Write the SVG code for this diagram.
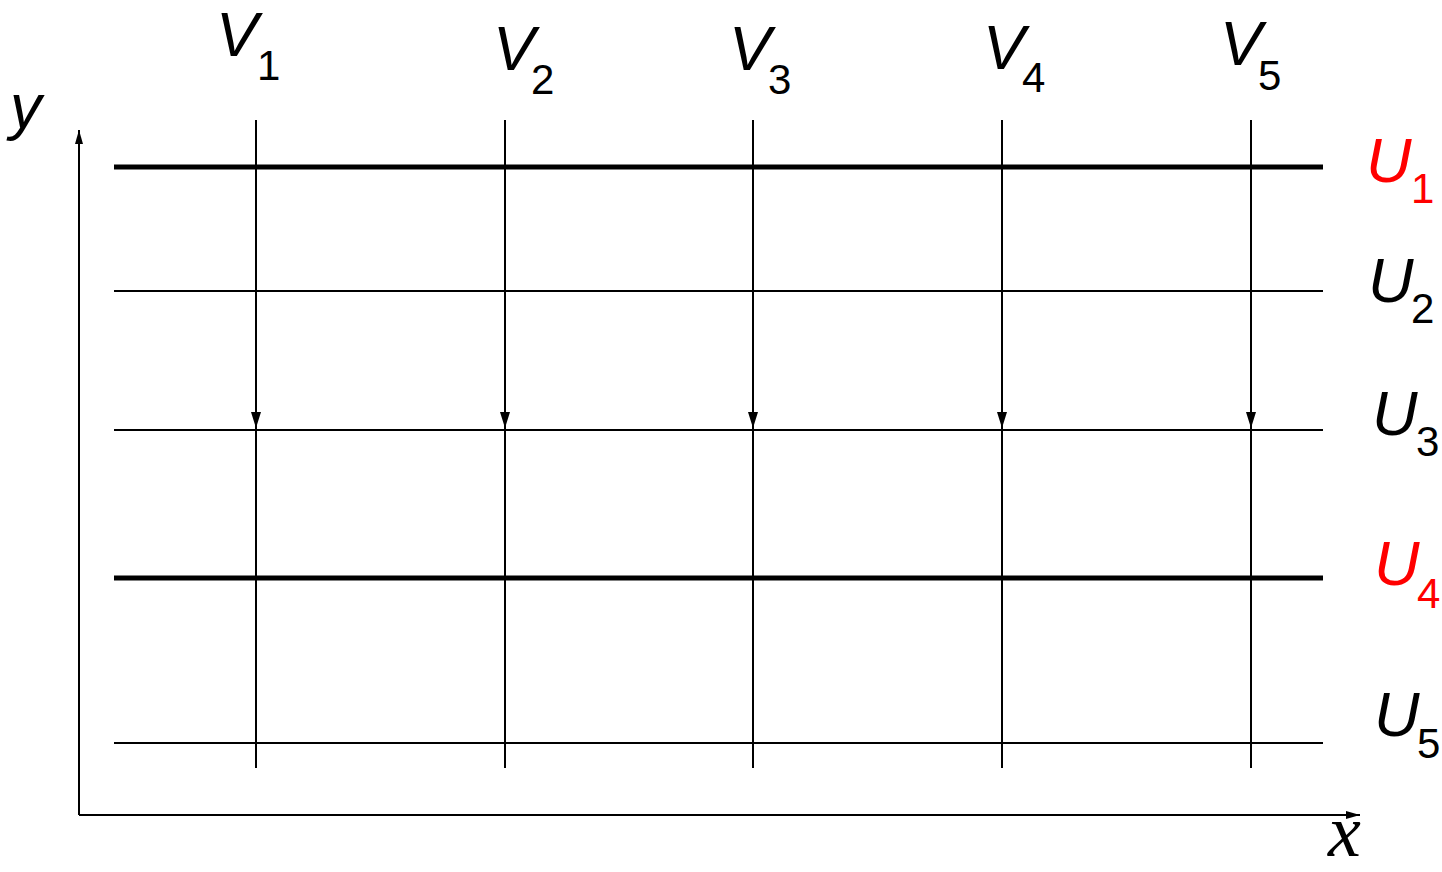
<svg xmlns="http://www.w3.org/2000/svg" width="1442" height="872" viewBox="0 0 1442 872">
<defs>
<marker id="ah" markerWidth="16" markerHeight="10" refX="16" refY="5" orient="auto" markerUnits="userSpaceOnUse" viewBox="0 0 16 10">
<path d="M0,0 L16,5 L0,10 Z" fill="#000"/>
</marker>
<marker id="ax" markerWidth="14" markerHeight="8" refX="14" refY="4" orient="auto" markerUnits="userSpaceOnUse" viewBox="0 0 14 8">
<path d="M0,0 L14,4 L0,8 Z" fill="#000"/>
</marker>
</defs>
<style>
.lbl{font-family:"Liberation Sans",Arial,sans-serif;font-style:italic;font-size:63px;fill:#000}
.sub{font-family:"Liberation Sans",Arial,sans-serif;font-size:42px;fill:#000}
.red{fill:#ff0000}
.thin{stroke:#000;stroke-width:2;fill:none}
.thick{stroke:#000;stroke-width:5;fill:none}
</style>
<rect width="1442" height="872" fill="#fff"/>
<g id="connectors">
<line class="thin" x1="79" y1="815" x2="79" y2="130" marker-end="url(#ax)"/>
<line class="thin" x1="79" y1="815" x2="1360" y2="815" marker-end="url(#ax)"/>
<line class="thick" x1="114" y1="167" x2="1323" y2="167"/>
<line class="thin" x1="114" y1="291" x2="1323" y2="291"/>
<line class="thin" x1="114" y1="430" x2="1323" y2="430"/>
<line class="thick" x1="114" y1="578" x2="1323" y2="578"/>
<line class="thin" x1="114" y1="743" x2="1323" y2="743"/>
<line class="thin" x1="256" y1="120" x2="256" y2="768"/>
<line class="thin" x1="505" y1="120" x2="505" y2="768"/>
<line class="thin" x1="753" y1="120" x2="753" y2="768"/>
<line class="thin" x1="1002" y1="120" x2="1002" y2="768"/>
<line class="thin" x1="1251" y1="120" x2="1251" y2="768"/>
<line class="thin" x1="256" y1="350" x2="256" y2="428" marker-end="url(#ah)"/>
<line class="thin" x1="505" y1="350" x2="505" y2="428" marker-end="url(#ah)"/>
<line class="thin" x1="753" y1="350" x2="753" y2="428" marker-end="url(#ah)"/>
<line class="thin" x1="1002" y1="350" x2="1002" y2="428" marker-end="url(#ah)"/>
<line class="thin" x1="1251" y1="350" x2="1251" y2="428" marker-end="url(#ah)"/>
</g>
<g id="V1"><text class="lbl" x="216" y="56">V</text><text class="sub" x="257" y="80">1</text></g>
<g id="V2"><text class="lbl" x="493" y="70">V</text><text class="sub" x="531" y="94">2</text></g>
<g id="V3"><text class="lbl" x="729" y="70">V</text><text class="sub" x="768" y="94">3</text></g>
<g id="V4"><text class="lbl" x="983" y="69">V</text><text class="sub" x="1022" y="92">4</text></g>
<g id="V5"><text class="lbl" x="1220" y="65">V</text><text class="sub" x="1258" y="90">5</text></g>
<g id="U1"><text class="lbl red" x="1366" y="182">U</text><text class="sub red" x="1411" y="203">1</text></g>
<g id="U2"><text class="lbl" x="1368" y="302">U</text><text class="sub" x="1411" y="323">2</text></g>
<g id="U3"><text class="lbl" x="1372" y="435">U</text><text class="sub" x="1416" y="456">3</text></g>
<g id="U4"><text class="lbl red" x="1374" y="585">U</text><text class="sub red" x="1417" y="608">4</text></g>
<g id="U5"><text class="lbl" x="1374" y="736">U</text><text class="sub" x="1417" y="758">5</text></g>
<g id="ylabel"><text class="lbl" x="10" y="128">y</text></g>
<g id="xlabel"><text x="1328" y="856" style="font-family:'Liberation Serif','Times New Roman',serif;font-style:italic;font-size:74px;fill:#000">x</text></g>
</svg>
